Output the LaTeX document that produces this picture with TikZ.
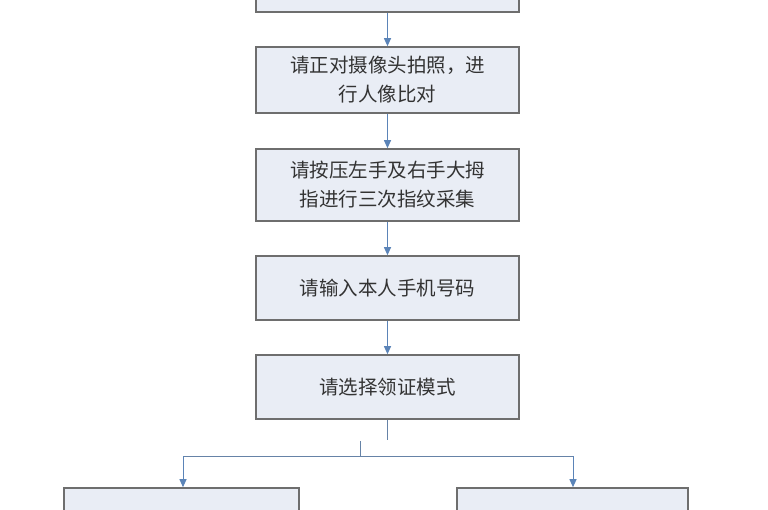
\documentclass[tikz,border=0pt]{standalone}
\usepackage{fontspec}
\setmainfont{Noto Sans CJK SC}
\usetikzlibrary{arrows.meta}
\definecolor{boxfill}{HTML}{E9EDF5}
\definecolor{boxline}{HTML}{6E6E6E}
\definecolor{arr}{HTML}{5B84B8}
\tikzset{
  stepbox/.style={draw=boxline,line width=1.6pt,fill=boxfill,minimum width=263pt,text width=250pt,align=center,font=\fontsize{19.5pt}{29pt}\selectfont,text=black!80,inner sep=0pt},
  conn/.style={draw=arr,line width=1pt,-{Triangle[length=8pt,width=7pt]}},
  plain/.style={draw=arr!70!gray,line width=1pt}
}
\begin{document}
\begin{tikzpicture}[x=1pt,y=-1pt]
\useasboundingbox (0,0) rectangle (768,510);
\clip (0,0) rectangle (768,510);
\fill[white] (0,0) rectangle (768,510);
\node[stepbox,minimum height=40pt] (b1) at (387.5,-8) {};
\node[stepbox,minimum height=66pt] (b2) at (387.5,80) {请正对摄像头拍照，进\\行人像比对};
\node[stepbox,minimum height=72pt] (b3) at (387.5,185) {请按压左手及右手大拇\\指进行三次指纹采集};
\node[stepbox,minimum height=64pt] (b4) at (387.5,288) {请输入本人手机号码};
\node[stepbox,minimum height=64pt] (b5) at (387.5,387) {请选择领证模式};
\node[stepbox,minimum width=235pt,text width=220pt,minimum height=50pt] (b6) at (181.5,513) {};
\node[stepbox,minimum width=231pt,text width=220pt,minimum height=50pt] (b7) at (572.5,513) {};
\draw[conn] (b1) -- (b2);
\draw[conn] (b2) -- (b3);
\draw[conn] (b3) -- (b4);
\draw[conn] (b4) -- (b5);
\coordinate (e) at (387.5,440);
\coordinate (t) at (360,441);
\coordinate (j) at (360,456);
\coordinate (l) at (183,456);
\coordinate (r) at (573,456);
\draw[plain] (b5.south) -- (e);
\draw[plain] (t) -- (j);
\draw[plain] (l) -- (r);
\draw[conn] (l) -- (b6.north -| l);
\draw[conn] (r) -- (b7.north -| r);
\end{tikzpicture}
\end{document}
